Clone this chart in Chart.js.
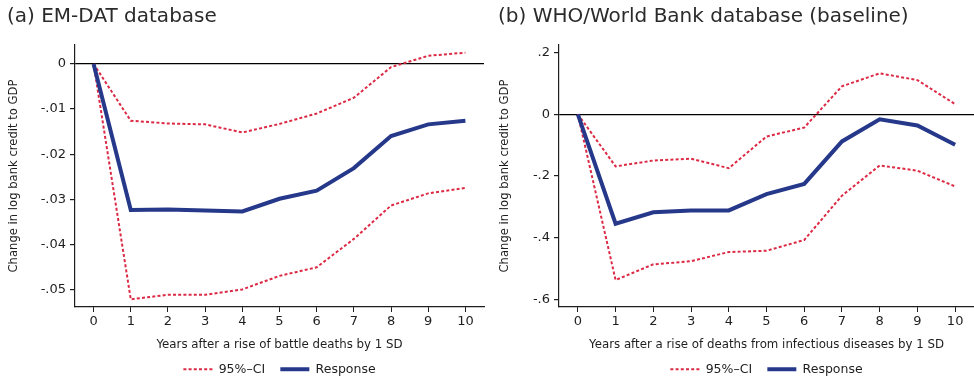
<!DOCTYPE html>
<html>
<head>
<meta charset="utf-8">
<script src="https://cdn.jsdelivr.net/npm/chart.js@4/dist/chart.umd.min.js"></script>
<style>
  html, body { margin: 0; padding: 0; background: #fff; }
  #wrap { position: relative; width: 974px; height: 379px; }
  .panel { position: absolute; top: 0; height: 379px; }
  #p1 { left: 0; width: 490px; }
  #p2 { left: 490px; width: 484px; }
</style>
</head>
<body>
<div id="wrap">
  <div class="panel" id="p1"><canvas id="chartA"></canvas></div>
  <div class="panel" id="p2"><canvas id="chartB"></canvas></div>
</div>
<script>
// ---- DATA ----
const years = [0, 1, 2, 3, 4, 5, 6, 7, 8, 9, 10];

// (a) EM-DAT database
const emdatResponse = [0, -0.0324, -0.0323, -0.0325, -0.0327, -0.0299, -0.0281, -0.0231, -0.0160, -0.0134, -0.0126];
const emdatUpper    = [0, -0.0126, -0.0132, -0.0134, -0.0152, -0.0133, -0.0110, -0.0075, -0.0007, 0.0018, 0.0025];
const emdatLower    = [0, -0.0522, -0.0512, -0.0512, -0.0500, -0.0470, -0.0451, -0.0388, -0.0314, -0.0287, -0.0275];
const emdatYTicks   = [0, -0.01, -0.02, -0.03, -0.04, -0.05];

// (b) WHO/World Bank database (baseline)
const whoResponse = [0, -0.355, -0.318, -0.312, -0.312, -0.259, -0.226, -0.088, -0.016, -0.036, -0.099];
const whoUpper    = [0, -0.169, -0.150, -0.144, -0.175, -0.072, -0.043, 0.091, 0.133, 0.111, 0.033];
const whoLower    = [0, -0.538, -0.487, -0.477, -0.447, -0.443, -0.408, -0.264, -0.166, -0.183, -0.234];
const whoYTicks   = [0.2, 0, -0.2, -0.4, -0.6];

const FONT = "'DejaVu Sans', sans-serif";
const RED = "#dc2a45";
const BLUE = "#26388a";
const INK = "#1e1e1e";

// format like -.01 / .2 (no leading zero)
function fmt(v) {
  if (v === 0) return "0";
  return String(v).replace("0.", ".");
}

function pairs(xs, ys) {
  return xs.map((x, i) => ({ x: x, y: ys[i] }));
}

// default labels take point style, so copy the line's dash and width back in
const baseLabels = Chart.defaults.plugins.legend.labels.generateLabels;
function legendLabels(chart) {
  return baseLabels(chart).map(item => {
    const ds = chart.data.datasets[item.datasetIndex];
    item.lineDash = ds.borderDash || [];
    item.lineWidth = ds.borderWidth;
    item.strokeStyle = ds.borderColor;
    return item;
  });
}

function makeChart(id, cfg) {
  const ciStyle = { borderColor: RED, borderWidth: 2, borderDash: [3, 2.2], pointRadius: 0, tension: 0, fill: false, order: 1 };
  return new Chart(document.getElementById(id), {
    type: "line",
    data: {
      datasets: [
        Object.assign({ label: "95%\u2013CI\u2002", data: pairs(years, cfg.upper) }, ciStyle),
        { label: "Response", data: pairs(years, cfg.response), borderColor: BLUE, borderWidth: 4,
          pointRadius: 0, tension: 0, fill: false, order: 0 },
        Object.assign({ label: "lower", data: pairs(years, cfg.lower) }, ciStyle)
      ]
    },
    options: {
      responsive: true,
      maintainAspectRatio: false,
      animation: false,
      layout: { padding: { left: cfg.padLeft, right: cfg.padRight, top: 0, bottom: 0 } },
      plugins: {
        title: {
          display: true, text: cfg.title, align: "start", color: "#2b2b2b",
          font: { family: FONT, size: 20, weight: "normal" },
          padding: { top: 5, bottom: 16 }
        },
        legend: {
          position: "bottom",
          fullSize: false,
          maxHeight: 25,
          labels: {
            generateLabels: legendLabels,
            filter: item => item.text !== "lower",
            sort: (a, b) => a.datasetIndex - b.datasetIndex,
            usePointStyle: true, pointStyle: "line", pointStyleWidth: 29,
            color: INK, font: { family: FONT, size: 12.5 }, padding: 9
          }
        },
        tooltip: { enabled: false }
      },
      scales: {
        x: {
          type: "linear", min: -0.5, max: 10.5,
          afterBuildTicks: axis => { axis.ticks = years.map(v => ({ value: v })); },
          afterFit: scale => { scale.height = 47; },
          ticks: { color: INK, font: { family: FONT, size: 13 }, padding: 2, maxRotation: 0 },
          grid: { drawOnChartArea: false, tickLength: 5, tickColor: INK },
          border: { color: INK, width: 1.2 },
          title: { display: true, text: cfg.xTitle, color: INK, font: { family: FONT, size: 11.8 }, padding: { top: 0, bottom: 2 } }
        },
        y: {
          min: cfg.yMin, max: cfg.yMax,
          afterBuildTicks: axis => { axis.ticks = cfg.yTicks.map(v => ({ value: v })); },
          afterFit: scale => { scale.width = cfg.yWidth; },
          ticks: { color: INK, font: { family: FONT, size: 13 }, padding: 4, callback: v => fmt(v) },
          grid: {
            color: c => (c.tick && c.tick.value === 0 ? "#000" : "rgba(0,0,0,0)"),
            lineWidth: 1.2, tickLength: 5, tickColor: INK
          },
          border: { color: INK, width: 1.2 },
          title: { display: true, text: "Change in log bank credit to GDP", color: INK,
                   font: { family: FONT, size: 11.6 }, padding: { top: 0, bottom: 0 } }
        }
      }
    }
  });
}

makeChart("chartA", {
  title: "(a) EM-DAT database",
  xTitle: "Years after a rise of battle deaths by 1 SD",
  response: emdatResponse, upper: emdatUpper, lower: emdatLower,
  yTicks: emdatYTicks, yMin: -0.0539, yMax: 0.0042,
  padLeft: 7, padRight: 6, yWidth: 68
});

makeChart("chartB", {
  title: "(b) WHO/World Bank database (baseline)",
  xTitle: "Years after a rise of deaths from infectious diseases by 1 SD",
  response: whoResponse, upper: whoUpper, lower: whoLower,
  yTicks: whoYTicks, yMin: -0.6255, yMax: 0.225,
  padLeft: 8, padRight: 0, yWidth: 61
});
</script>
</body>
</html>
